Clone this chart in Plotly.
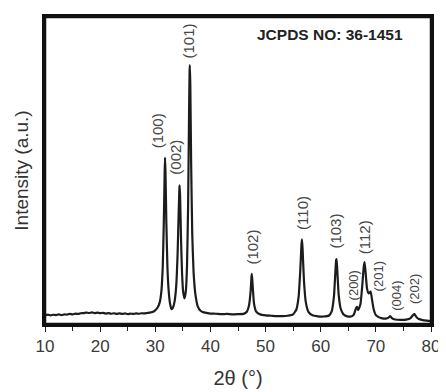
import plotly.graph_objects as go

# XRD pattern (2θ in degrees, intensity in arbitrary units)
two_theta = [
    10.0, 10.5, 11.0, 11.5, 12.0, 12.5, 13.0, 13.5, 14.0, 14.5, 15.0, 15.5, 16.0, 16.5,
    17.0, 17.5, 18.0, 18.5, 19.0, 19.5, 20.0, 20.5, 21.0, 21.5, 22.0, 22.5, 23.0, 23.5,
    24.0, 24.5, 25.0, 25.5, 26.0, 26.5, 27.0, 27.5, 28.0, 28.5, 29.0, 29.8, 30.4, 30.8,
    31.1, 31.35, 31.55, 31.7, 31.77, 31.85, 32.0, 32.2, 32.45, 32.7, 32.95, 33.2, 33.5,
    33.8, 34.05, 34.25, 34.38, 34.42, 34.5, 34.65, 34.85, 35.05, 35.3, 35.55, 35.75,
    35.95, 36.1, 36.22, 36.27, 36.35, 36.5, 36.7, 36.95, 37.3, 37.7, 38.2, 38.8, 39.5,
    40.0, 41.0, 42.0, 43.0, 44.0, 45.0, 46.0, 46.6, 47.0, 47.3, 47.45, 47.52, 47.65,
    47.9, 48.3, 49.0, 50.0, 51.0, 52.0, 53.0, 54.0, 55.0, 55.6, 56.0, 56.3, 56.5, 56.6,
    56.7, 56.95, 57.3, 57.8, 58.5, 59.5, 60.5, 61.5, 62.0, 62.4, 62.65, 62.8, 62.88,
    63.0, 63.25, 63.6, 64.1, 64.8, 65.5, 66.0, 66.4, 66.6, 66.8, 67.2, 67.55, 67.8,
    67.95, 68.1, 68.4, 68.7, 69.05, 69.3, 69.6, 70.0, 70.5, 71.0, 71.8, 72.3, 72.6,
    72.9, 73.5, 74.5, 75.5, 76.3, 76.8, 77.0, 77.3, 77.8, 78.5, 79.2, 80.0,
]
intensity = [
    9.0, 9.6, 8.8, 9.4, 9.1, 9.8, 9.0, 9.7, 9.6, 10.3, 9.8, 10.5, 10.2, 10.9,
    11.0, 11.6, 11.2, 11.8, 11.1, 11.5, 11.0, 11.4, 10.6, 11.1, 10.4, 10.9, 10.3, 10.8,
    10.2, 10.7, 10.1, 10.6, 10.2, 10.7, 10.4, 10.9, 10.8, 11.2, 11.5, 13.0, 16.5, 22.0,
    33.0, 58.0, 104.0, 155.0, 169.0, 155.0, 105.0, 58.0, 32.0, 20.0, 15.0, 16.5, 23.0,
    39.0, 72.0, 115.0, 139.0, 141.0, 130.0, 90.0, 52.0, 33.0, 26.0, 34.0, 58.0,
    120.0, 200.0, 257.0, 263.0, 244.0, 165.0, 92.0, 52.0, 29.0, 18.0, 13.5, 11.8, 11.0,
    10.6, 10.4, 10.0, 10.2, 9.8, 10.0, 10.3, 12.5, 19.0, 34.0, 48.0, 51.0, 40.0,
    21.0, 12.5, 9.8, 8.8, 8.4, 8.0, 8.0, 8.4, 9.8, 15.0, 28.0, 55.0, 80.0, 86.0,
    78.0, 45.0, 22.0, 12.0, 8.8, 7.8, 7.6, 8.6, 13.0, 28.0, 52.0, 65.0, 66.0,
    55.0, 30.0, 16.0, 10.0, 7.8, 7.6, 9.5, 16.0, 17.5, 14.0, 20.0, 40.0, 58.0,
    63.0, 55.0, 36.0, 31.0, 33.0, 25.0, 15.0, 9.0, 7.0, 6.0, 5.5, 6.5, 8.0,
    6.0, 4.6, 4.2, 4.5, 6.0, 9.5, 10.0, 7.5, 5.0, 4.0, 3.5, 3.0,
]

# Miller index labels: text, 2θ position, intensity position, font size
peak_labels = ["(100)", "(002)", "(101)", "(102)", "(110)", "(103)",
               "(200)", "(112)", "(201)", "(004)", "(202)"]
label_x = [30.35, 33.75, 36.1, 47.6, 56.8, 62.6, 66.0, 68.0, 70.5, 73.7, 77.0]
label_y = [196, 170, 288, 78, 113, 94, 39, 88, 48, 29, 36]
label_size = [15, 15, 15, 15, 15, 15, 13, 15, 13, 13, 13]

x_ticks = [10, 20, 30, 40, 50, 60, 70, 80]

fig = go.Figure()
fig.add_trace(go.Scatter(
    x=two_theta, y=intensity, mode="lines",
    line=dict(color="#1c1c1c", width=2.2, shape="spline", smoothing=0.4),
    showlegend=False, hoverinfo="skip",
))

for t, lx, ly, fs in zip(peak_labels, label_x, label_y, label_size):
    fig.add_annotation(x=lx, y=ly, xref="x", yref="y", text=t, showarrow=False,
                       textangle=-90, xanchor="center", yanchor="middle",
                       font=dict(family="Liberation Sans, Arial", size=fs, color="#474747"))

fig.add_annotation(x=0.739, y=0.944, xref="paper", yref="paper",
                   xanchor="center", yanchor="middle",
                   text="<b>JCPDS NO: 36-1451</b>", showarrow=False,
                   font=dict(family="Liberation Sans, Arial", size=15.5, color="#222222"))

# plot frame
fig.add_shape(type="rect", xref="paper", yref="paper", x0=0, x1=1, y0=0, y1=1,
              line=dict(color="#111111", width=2.5), fillcolor="rgba(0,0,0,0)", layer="above")

fig.update_layout(
    width=438, height=384,
    margin=dict(l=37, r=12, t=6, b=66),
    paper_bgcolor="white", plot_bgcolor="white",
    font=dict(family="Liberation Sans, Arial", color="#333333"),
    xaxis=dict(
        range=[10, 80], tickvals=x_ticks, ticktext=[str(v) for v in x_ticks],
        ticks="outside", ticklen=5, tickwidth=1.3, tickcolor="#222222",
        minor=dict(dtick=5, ticks="outside", ticklen=4, tickwidth=1.2, tickcolor="#222222"),
        showline=True, linecolor="#111111", linewidth=2.5, mirror=True,
        showgrid=False, zeroline=False,
        tickfont=dict(size=17, color="#3a3a3a"),
        title=dict(text="2θ (°)", font=dict(size=20, color="#333333"), standoff=16),
    ),
    yaxis=dict(
        range=[0, 312], showticklabels=False, ticks="",
        showline=True, linecolor="#111111", linewidth=2.5, mirror=True,
        showgrid=False, zeroline=False,
        title=dict(text="Intensity (a.u.)", font=dict(size=19, color="#333333"), standoff=9),
    ),
)

fig.write_html("out.html")
